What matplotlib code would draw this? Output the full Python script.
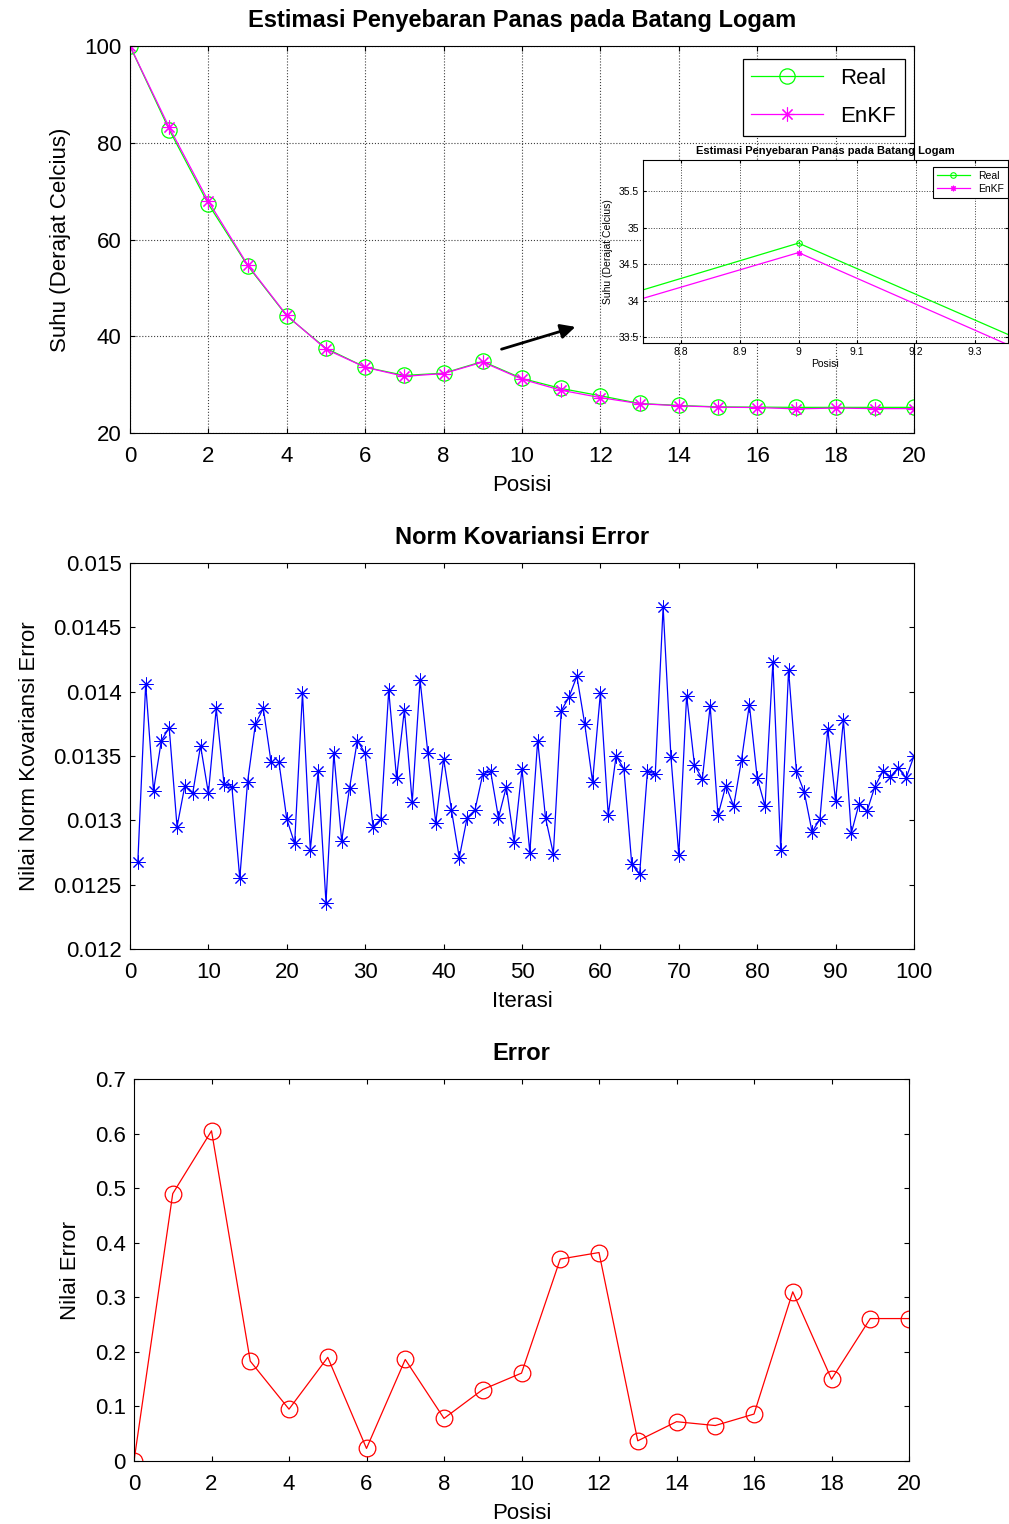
import matplotlib
matplotlib.use("Agg")
import matplotlib.pyplot as plt
from matplotlib.ticker import FormatStrFormatter
import numpy as np

plt.rcParams['font.family'] = ['Liberation Sans', 'DejaVu Sans']
plt.rcParams['xtick.direction'] = 'in'
plt.rcParams['ytick.direction'] = 'in'
plt.rcParams['xtick.top'] = True
plt.rcParams['ytick.right'] = True

# temperature along the rod
posisi = list(range(0, 21))
suhu_real = [100, 82.7, 67.3, 54.6, 44.2, 37.5, 33.6, 31.9, 32.37, 34.79, 31.28,
             29.2, 27.7, 26.1, 25.7, 25.4, 25.35, 25.3, 25.3, 25.3, 25.3]
suhu_enkf = [100, 83.19, 67.9, 54.78, 44.3, 37.31, 33.58, 31.71, 32.29, 34.66, 31.12,
             28.83, 27.32, 26.06, 25.63, 25.34, 25.26, 24.99, 25.15, 25.04, 25.04]

# norm of the error covariance per iteration
iterasi = list(range(1, 101))
norm_kov = [0.01268, 0.01406, 0.01323, 0.01362, 0.01372, 0.01295, 0.01327, 0.01321, 0.01358, 0.01321,
            0.01387, 0.01328, 0.01326, 0.01255, 0.01330, 0.01375, 0.01387, 0.01345, 0.01345, 0.01301,
            0.01282, 0.01399, 0.01277, 0.01338, 0.01236, 0.01352, 0.01284, 0.01325, 0.01362, 0.01352,
            0.01295, 0.01301, 0.01401, 0.01333, 0.01386, 0.01314, 0.01409, 0.01352, 0.01298, 0.01348,
            0.01308, 0.01271, 0.01302, 0.01308, 0.01336, 0.01338, 0.01302, 0.01326, 0.01283, 0.01340,
            0.01275, 0.01362, 0.01302, 0.01274, 0.01385, 0.01396, 0.01412, 0.01375, 0.01330, 0.01399,
            0.01304, 0.01350, 0.01340, 0.01266, 0.01258, 0.01338, 0.01336, 0.01466, 0.01349, 0.01273,
            0.01397, 0.01343, 0.01332, 0.01389, 0.01304, 0.01327, 0.01311, 0.01347, 0.01390, 0.01333,
            0.01311, 0.01423, 0.01277, 0.01417, 0.01338, 0.01322, 0.01291, 0.01301, 0.01371, 0.01315,
            0.01378, 0.01290, 0.01313, 0.01307, 0.01326, 0.01338, 0.01334, 0.01341, 0.01333, 0.01350]

# absolute estimation error per position
nilai_error = [0, 0.49, 0.605, 0.183, 0.095, 0.19, 0.023, 0.186, 0.078, 0.131, 0.161,
               0.37, 0.382, 0.037, 0.072, 0.065, 0.086, 0.31, 0.15, 0.261, 0.261]

W, H = 1009, 1524
fig = plt.figure(figsize=(W / 100, H / 100), dpi=100)

def box(l, t, r, b):
    return [l / W, 1 - b / H, (r - l) / W, (b - t) / H]

green = (0, 1, 0)
magenta = (1, 0, 1)
star = (8, 2, 0)  # 8-spoke asterisk like MATLAB '*'

TITLE = dict(fontsize=17, fontweight='bold', pad=14)
LABEL = 16

def style_main(ax):
    ax.tick_params(axis='x', labelsize=16, pad=9)
    ax.tick_params(axis='y', labelsize=16, pad=6)

# ---- top: temperature estimate ----
ax1 = fig.add_axes(box(130, 46, 914, 433))
ax1.plot(posisi, suhu_real, color=green, lw=0.9, marker='o', ms=11, mfc='none', mew=0.9, label='Real')
ax1.plot(posisi, suhu_enkf, color=magenta, lw=0.9, marker=star, ms=10, mew=0.8, label='EnKF')
ax1.set_xlim(0, 20)
ax1.set_ylim(20, 100)
ax1.set_xticks(range(0, 21, 2))
ax1.set_yticks(range(20, 101, 20))
ax1.grid(True, ls=':', color='0.25', lw=0.8)
style_main(ax1)
ax1.set_title('Estimasi Penyebaran Panas pada Batang Logam', **TITLE)
ax1.set_xlabel('Posisi', fontsize=LABEL, labelpad=6)
ax1.set_ylabel('Suhu (Derajat Celcius)', fontsize=LABEL, labelpad=10)
leg = ax1.legend(loc='upper right', bbox_to_anchor=(0.9885, 0.966), borderaxespad=0,
                 fontsize=16, handlelength=3.2, labelspacing=0.75,
                 fancybox=False, edgecolor='k', framealpha=1)
leg.get_frame().set_linewidth(0.9)
ax1.annotate('', xy=(11.43, 42.1), xytext=(9.41, 37.16),
             arrowprops=dict(arrowstyle='-|>', color='k', lw=2, mutation_scale=22))

# zoomed view around position 9
ins = fig.add_axes(box(643, 160, 1008, 343))
ins.plot(posisi, suhu_real, color=green, lw=0.9, marker='o', ms=4, mfc='none', mew=0.8, label='Real')
ins.plot(posisi, suhu_enkf, color=magenta, lw=0.9, marker=star, ms=4, mew=0.8, label='EnKF')
ins.set_xlim(8.735, 9.357)
ins.set_ylim(33.42, 35.93)
ins.set_xticks([8.8, 8.9, 9, 9.1, 9.2, 9.3])
ins.set_yticks([33.5, 34, 34.5, 35, 35.5])
ins.xaxis.set_major_formatter(FormatStrFormatter('%g'))
ins.yaxis.set_major_formatter(FormatStrFormatter('%g'))
ins.grid(True, ls=':', color='0.25', lw=0.7)
ins.tick_params(labelsize=7.5, length=2, pad=3)
ins.set_title('Estimasi Penyebaran Panas pada Batang Logam', fontsize=8, fontweight='bold', pad=4)
ins.set_xlabel('Posisi', fontsize=7.5, labelpad=1)
ins.set_ylabel('Suhu (Derajat Celcius)', fontsize=7.5, labelpad=4)
ileg = ins.legend(loc='upper right', bbox_to_anchor=(1.0, 0.96), borderaxespad=0,
                  fontsize=7.5, handlelength=3.2, fancybox=False, edgecolor='k',
                  framealpha=1, borderpad=0.35, labelspacing=0.3)
ileg.get_frame().set_linewidth(0.8)

# ---- middle: error covariance norm ----
ax2 = fig.add_axes(box(130, 563, 914, 949))
ax2.plot(iterasi, norm_kov, color=(0, 0, 1), lw=0.9, marker=star, ms=10, mew=0.7)
ax2.set_xlim(0, 100)
ax2.set_ylim(0.012, 0.015)
ax2.set_xticks(range(0, 101, 10))
ax2.set_yticks([0.012, 0.0125, 0.013, 0.0135, 0.014, 0.0145, 0.015])
ax2.yaxis.set_major_formatter(FormatStrFormatter('%g'))
style_main(ax2)
ax2.set_title('Norm Kovariansi Error', **TITLE)
ax2.set_xlabel('Iterasi', fontsize=LABEL, labelpad=6)
ax2.set_ylabel('Nilai Norm Kovariansi Error', fontsize=LABEL, labelpad=10)

# ---- bottom: error ----
ax3 = fig.add_axes(box(134, 1079, 909, 1461))
ax3.plot(posisi, nilai_error, color=(1, 0, 0), lw=0.9, marker='o', ms=12, mfc='none', mew=0.9)
ax3.set_xlim(0, 20)
ax3.set_ylim(0, 0.7)
ax3.set_xticks(range(0, 21, 2))
ax3.set_yticks(np.arange(0, 0.71, 0.1))
ax3.yaxis.set_major_formatter(FormatStrFormatter('%g'))
style_main(ax3)
ax3.set_title('Error', **TITLE)
ax3.set_xlabel('Posisi', fontsize=LABEL, labelpad=6)
ax3.set_ylabel('Nilai Error', fontsize=LABEL, labelpad=10)

fig.savefig('out.png', dpi=100)
